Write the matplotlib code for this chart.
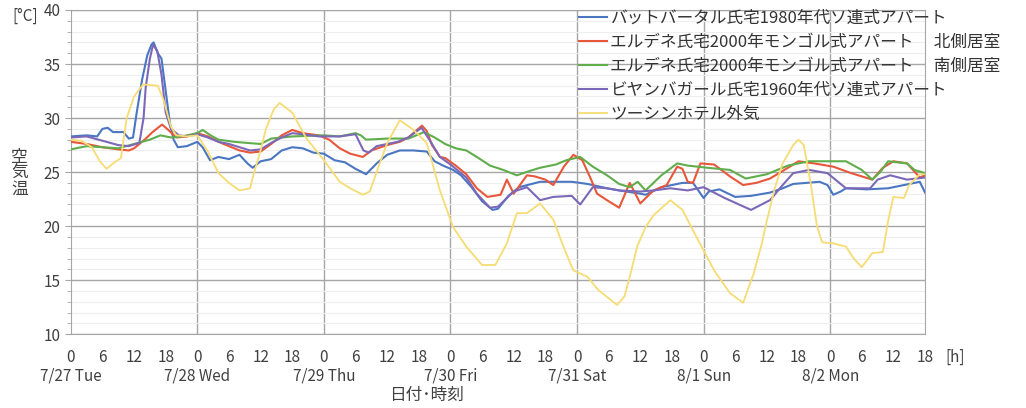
import matplotlib
matplotlib.use("Agg")
import matplotlib.pyplot as plt
from matplotlib.ticker import MultipleLocator

plt.rcParams['font.family'] = ['Noto Sans CJK JP', 'DejaVu Sans']

# room / outdoor air temperatures, hours counted from 7/27 0:00
h_bat = [0, 3, 5, 6, 7, 8, 10, 11, 11.8, 12.5, 13.5, 14.5, 15.3, 15.7, 16.5, 17.2, 18, 18.8, 19.5, 20.3,
         22, 24, 25, 26.4, 28, 30, 32, 33.5, 34.5, 36, 38, 40, 42, 44, 46, 48, 50, 52, 54, 56, 58, 60,
         62.4, 65, 67.5, 69, 70.6, 72.5, 74, 76, 78, 80, 81, 83, 85, 89, 95, 98, 101.7, 104, 108, 109,
         112, 116, 118, 119, 120, 121, 123, 126, 129, 132.6, 135, 137, 142, 143.5, 144.6, 146, 147,
         151, 155, 158, 161, 162]
t_bat = [28.3, 28.4, 28.3, 29.0, 29.1, 28.7, 28.7, 28.1, 28.2, 30.5, 33.5, 35.8, 36.8, 37.0, 36.0, 35.5,
         32.5, 29.5, 28.0, 27.3, 27.4, 27.8, 27.3, 26.1, 26.4, 26.2, 26.6, 25.8, 25.4, 26.0, 26.2, 27.0,
         27.3, 27.2, 26.8, 26.7, 26.1, 25.9, 25.3, 24.8, 25.8, 26.6, 27.0, 27.0, 26.9, 26.0, 25.6, 25.2,
         24.7, 23.6, 22.3, 21.5, 21.6, 22.8, 23.6, 24.1, 24.1, 23.9, 23.5, 23.3, 23.0, 22.9, 23.6, 24.0,
         24.0, 23.3, 22.6, 23.2, 23.4, 22.7, 22.8, 23.1, 23.5, 23.9, 24.1, 23.8, 22.9, 23.2, 23.5, 23.4,
         23.5, 23.8, 24.1, 23.1]

h_erd_n = [0, 3, 6, 9, 11, 12, 14, 15.5, 17.3, 18.5, 20, 22, 24, 26, 28, 30, 32, 34, 36, 38, 40, 42, 44,
           47, 49, 51, 53, 55.4, 57, 60, 62.4, 64, 66.6, 67.5, 68.5, 70, 71, 73, 75, 77, 79, 81.5, 82.7,
           84, 86.5, 88, 90, 91.5, 93.5, 95.3, 97, 98.5, 99.8, 102, 104, 106, 108, 110.5, 113, 115, 116,
           117, 118, 119.4, 122, 125, 127.5, 130, 132.6, 135, 138, 141, 144.6, 148, 152, 154, 156, 158.6,
           161, 162]
t_erd_n = [27.8, 27.6, 27.3, 27.1, 27.0, 27.2, 28.0, 28.7, 29.4, 28.9, 28.2, 28.3, 28.6, 28.3, 27.8, 27.4,
           27.0, 26.8, 26.9, 27.6, 28.4, 28.9, 28.6, 28.4, 28.0, 27.2, 26.7, 26.4, 27.0, 27.5, 27.8, 28.2,
           29.3, 28.8, 27.5, 26.4, 26.3, 25.6, 24.8, 23.5, 22.7, 22.9, 24.3, 23.0, 24.7, 24.6, 24.3, 23.8,
           25.5, 26.6, 26.1, 24.5, 23.0, 22.3, 21.7, 24.0, 22.1, 23.3, 23.8, 25.5, 25.3, 24.1, 24.0, 25.8,
           25.7, 24.6, 23.8, 24.0, 24.4, 25.1, 26.0, 25.8, 25.5, 24.9, 24.3, 25.4, 26.0, 25.8, 24.5, 24.7]

h_erd_s = [0, 3, 6, 9, 12, 15, 17, 19, 21, 24, 25, 26.5, 28, 31, 33.4, 36, 38, 42, 48, 51, 54, 55, 56,
           60, 64, 67, 69, 71, 73, 75, 77, 79.5, 82, 84.6, 87, 89, 92, 94, 96.6, 99, 101.7, 104, 106,
           107.5, 109, 112, 115, 117, 120.7, 125, 128, 132, 136, 140, 144, 147, 150, 152, 153.5, 155,
           158.6, 160, 162]
t_erd_s = [27.1, 27.4, 27.3, 27.2, 27.6, 28.0, 28.4, 28.2, 28.3, 28.6, 28.9, 28.4, 28.0, 27.8, 27.7, 27.6,
           28.1, 28.3, 28.4, 28.3, 28.6, 28.4, 28.0, 28.1, 28.1, 28.7, 28.2, 27.6, 27.2, 27.0, 26.4, 25.6,
           25.2, 24.7, 25.1, 25.4, 25.7, 26.1, 26.4, 25.5, 24.7, 23.9, 23.6, 24.1, 23.3, 24.7, 25.8, 25.6,
           25.4, 25.2, 24.4, 24.8, 25.6, 26.0, 26.0, 26.0, 25.2, 24.3, 25.0, 26.0, 25.8, 25.2, 24.9]

h_biy = [0, 3, 6, 9, 11, 13, 13.8, 14.2, 15, 15.6, 16.4, 17.2, 18, 19, 20.5, 22, 24, 26, 28, 30, 32, 34,
         36, 38, 40, 42, 44, 47, 51, 54, 55.5, 56.5, 58, 62, 64, 66.5, 68, 70, 72, 75, 77, 79.5, 81, 84,
         86.5, 89, 91.5, 95, 96.6, 99, 101.7, 104, 108, 110.5, 113.7, 117, 120, 124, 129, 132.6, 135,
         137, 140, 143.5, 147, 151.6, 153, 155.4, 158.6, 162]
t_biy = [28.2, 28.3, 27.9, 27.5, 27.4, 27.7, 30.0, 32.8, 35.5, 36.8, 36.2, 34.0, 30.5, 29.0, 28.4, 28.3,
         28.5, 28.2, 27.8, 27.6, 27.3, 27.0, 27.1, 27.7, 28.2, 28.6, 28.5, 28.3, 28.3, 28.5, 27.0, 26.8,
         27.4, 27.8, 28.2, 29.1, 28.0, 26.4, 25.7, 24.5, 23.0, 21.7, 21.8, 23.2, 23.6, 22.4, 22.7, 22.8,
         22.0, 23.6, 23.5, 23.3, 23.2, 23.3, 23.5, 23.3, 23.6, 22.6, 21.5, 22.4, 23.8, 24.9, 25.2, 24.9,
         23.5, 23.5, 24.3, 24.7, 24.3, 24.5]

h_out = [0, 2, 4, 5.5, 6.8, 8, 9.5, 10.6, 12, 13.7, 16.5, 17.5, 19, 20, 22, 24, 26, 28, 30, 32, 34, 34.5,
         36, 37, 38.5, 39.6, 42, 44.7, 48, 51, 53, 55.4, 56.7, 58, 60, 62.4, 65, 67.5, 70, 72.5, 75, 78,
         80.5, 82.7, 84.6, 86.5, 89, 91.5, 93.5, 95.3, 98, 100, 103.6, 105, 106, 107.4, 109, 110.5,
         113.7, 116, 118, 122, 125, 127.5, 129.5, 131, 132, 133.5, 135, 137, 138, 139, 140.3, 141.5,
         142.5, 144.6, 147, 148.5, 150, 152, 154, 155, 156, 158, 159, 161, 162]
t_out = [28.0, 27.9, 27.3, 26.0, 25.3, 25.8, 26.3, 30.0, 32.0, 33.1, 33.0, 31.8, 29.2, 28.4, 28.3, 28.4,
         26.9, 24.9, 24.0, 23.3, 23.5, 24.5, 27.0, 29.0, 30.8, 31.4, 30.5, 28.1, 26.1, 24.1, 23.5, 22.9,
         23.2, 25.0, 27.7, 29.8, 28.9, 27.7, 23.3, 19.9, 18.1, 16.4, 16.4, 18.4, 21.2, 21.2, 22.1, 20.6,
         18.0, 15.9, 15.3, 14.1, 12.7, 13.5, 15.3, 18.1, 19.9, 21.0, 22.4, 21.5, 19.6, 15.9, 13.8, 12.9,
         15.6, 18.3, 20.5, 23.5, 25.8, 27.5, 28.0, 27.5, 24.0, 20.0, 18.5, 18.4, 18.1, 17.0, 16.2, 17.5,
         17.6, 20.5, 22.7, 22.6, 23.8, 24.8, 24.8]

labels = ["バットバータル氏宅1980年代ソ連式アパート",
          "エルデネ氏宅2000年モンゴル式アパート　 北側居室",
          "エルデネ氏宅2000年モンゴル式アパート　 南側居室",
          "ビヤンバガール氏宅1960年代ソ連式アパート",
          "ツーシンホテル外気"]
colors = ["#4a76c2", "#e8573a", "#5fae4b", "#7c68b8", "#f6dc72"]

days = ["7/27 Tue", "7/28 Wed", "7/29 Thu", "7/30 Fri", "7/31 Sat", "8/1 Sun", "8/2 Mon"]
hour_labels = [0, 6, 12, 18]

txt = "#404040"
grid_major = "#a6a6a6"

fig = plt.figure(figsize=(10.26, 4.08), dpi=100)
ax = fig.add_axes([0.069, 0.181, 0.8326, 0.7945])

series = [(h_bat, t_bat), (h_erd_n, t_erd_n), (h_erd_s, t_erd_s), (h_biy, t_biy), (h_out, t_out)]
widths = [1.5, 1.5, 1.5, 1.5, 1.3]
# outdoor air is drawn first so the room curves sit on top of it
order = [4, 0, 1, 2, 3]
for i in order:
    hh, tt = series[i]
    ax.plot(hh, tt, color=colors[i], lw=widths[i], label=labels[i], zorder=3 + i * 0.1)

ax.set_xlim(0, 162)
ax.set_ylim(10, 40)

# y axis: every 5 deg labelled, faint line every 1 deg
ax.yaxis.set_major_locator(MultipleLocator(5))
ax.yaxis.set_minor_locator(MultipleLocator(1))
ax.grid(axis="y", which="major", color=grid_major, lw=1.0)
ax.grid(axis="y", which="minor", color="#eeeeee", lw=0.8)
ax.tick_params(axis="y", which="both", direction="out", colors=grid_major, labelcolor=txt,
               labelsize=11)
ax.tick_params(axis="y", which="major", length=4)
ax.tick_params(axis="y", which="minor", length=3)

# x axis: hour of day under each 6 h, date under each midnight
ticks = [d * 24 + h for d in range(len(days)) for h in hour_labels]
ax.set_xticks(ticks)
ax.set_xticklabels([str(h) for d in range(len(days)) for h in hour_labels])
ax.set_xticks([d * 24 + 12 for d in range(len(days))], minor=True)
ax.tick_params(axis="x", which="major", length=0, pad=11, labelcolor=txt, labelsize=11)
ax.tick_params(axis="x", which="minor", length=4, direction="in", colors=grid_major)
for d in range(1, len(days)):
    ax.axvline(d * 24, color=grid_major, lw=1.0, zorder=1)

for d, name in enumerate(days):
    ax.text(d * 24, -0.13, name, transform=ax.get_xaxis_transform(), ha="center", va="center",
            fontsize=11, color=txt)

for side in ["left", "bottom", "right", "top"]:
    ax.spines[side].set_color(grid_major)

fig.text(0.921, 0.125, "[h]", fontsize=11, color=txt, ha="left", va="center")
fig.text(0.012, 0.96, "[°C]", fontsize=11, color=txt, ha="left", va="center")
fig.text(0.019, 0.575, "空\n気\n温", fontsize=12, color=txt, ha="center", va="center",
         linespacing=0.95)
fig.text(0.416, 0.03, "日付･時刻", fontsize=12, color=txt, ha="center", va="center")

handles, labs = ax.get_legend_handles_labels()
idx = [labs.index(l) for l in labels]
leg = fig.legend([handles[k] for k in idx], labels, loc="upper left",
                 bbox_to_anchor=(0.556, 0.997), frameon=False, fontsize=12,
                 handlelength=1.7, handletextpad=0.2, labelspacing=0.42, borderpad=0.0)
for t in leg.get_texts():
    t.set_color("#333333")

fig.savefig("out.png", dpi=100)
